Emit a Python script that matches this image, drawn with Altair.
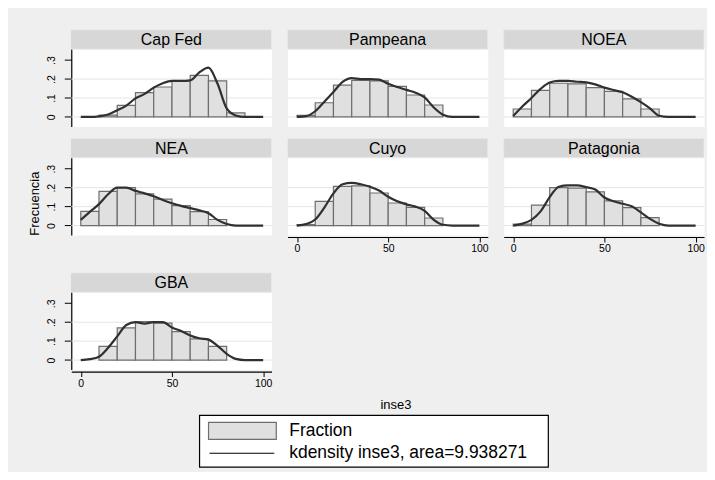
import altair as alt
import pandas as pd

# ---------------- data ----------------
REGIONS = ["Cap Fed", "Pampeana", "NOEA", "NEA", "Cuyo", "Patagonia", "GBA"]

BIN_LO = [0, 10, 20, 30, 40, 50, 60, 70, 80]
BIN_HI = [10, 20, 30, 40, 50, 60, 70, 80, 90]

FRAC_CAPFED = [0.0, 0.01, 0.061, 0.128, 0.158, 0.19, 0.22, 0.19, 0.021]
FRAC_PAMPEANA = [0.008, 0.075, 0.168, 0.193, 0.19, 0.161, 0.116, 0.063, 0.0]
FRAC_NOEA = [0.042, 0.14, 0.178, 0.175, 0.155, 0.135, 0.095, 0.042, 0.0]
FRAC_NEA = [0.075, 0.18, 0.2, 0.167, 0.14, 0.105, 0.074, 0.032, 0.0]
FRAC_CUYO = [0.005, 0.128, 0.207, 0.21, 0.172, 0.119, 0.096, 0.04, 0.0]
FRAC_PATAGONIA = [0.008, 0.108, 0.2, 0.198, 0.178, 0.13, 0.095, 0.042, 0.0]
FRAC_GBA = [0.0, 0.072, 0.17, 0.203, 0.195, 0.15, 0.112, 0.072, 0.0]

KX = [0, 5, 10, 15, 20, 25, 30, 35, 40, 45, 50, 55, 60, 65, 70, 75, 80, 85, 90, 95, 100]
KD_CAPFED = [0, 0, 0.003, 0.013, 0.035, 0.06, 0.098, 0.122, 0.155, 0.178, 0.19, 0.19,
             0.193, 0.235, 0.26, 0.175, 0.045, 0.008, 0, 0, 0]
KD_PAMPEANA = [0, 0.004, 0.03, 0.08, 0.132, 0.185, 0.205, 0.2, 0.2, 0.197, 0.175, 0.158,
               0.143, 0.128, 0.103, 0.05, 0.012, 0, 0, 0, 0]
KD_NOEA = [0.005, 0.055, 0.1, 0.148, 0.182, 0.19, 0.19, 0.186, 0.183, 0.172, 0.155, 0.142,
           0.13, 0.107, 0.078, 0.045, 0.006, 0, 0, 0, 0]
KD_NEA = [0.03, 0.072, 0.113, 0.165, 0.2, 0.2, 0.183, 0.17, 0.155, 0.135, 0.118, 0.104,
          0.092, 0.08, 0.065, 0.03, 0.008, 0, 0, 0, 0]
KD_CUYO = [0, 0.008, 0.032, 0.095, 0.17, 0.218, 0.225, 0.218, 0.205, 0.185, 0.152, 0.128,
           0.112, 0.1, 0.078, 0.03, 0.004, 0, 0, 0, 0]
KD_PATAGONIA = [0, 0.01, 0.03, 0.075, 0.15, 0.205, 0.212, 0.212, 0.203, 0.19, 0.148, 0.128,
                0.115, 0.102, 0.07, 0.035, 0.01, 0, 0, 0, 0]
KD_GBA = [0, 0.005, 0.018, 0.065, 0.125, 0.185, 0.2, 0.193, 0.2, 0.2, 0.172, 0.153,
          0.13, 0.115, 0.108, 0.075, 0.033, 0.006, 0, 0, 0]

Y_TICKS = [0, 0.1, 0.2, 0.3]
GRID_VALUES = [0, 0.1, 0.2]
X_TICKS = [0, 50, 100]
Y_TITLE = "Frecuencia"
X_TITLE = "inse3"
LEGEND_LABELS = ["Fraction", "kdensity inse3, area=9.938271"]

FRAC = dict(zip(REGIONS, [FRAC_CAPFED, FRAC_PAMPEANA, FRAC_NOEA, FRAC_NEA,
                          FRAC_CUYO, FRAC_PATAGONIA, FRAC_GBA]))
KD = dict(zip(REGIONS, [KD_CAPFED, KD_PAMPEANA, KD_NOEA, KD_NEA,
                        KD_CUYO, KD_PATAGONIA, KD_GBA]))

# ---------------- style ----------------
FONT = "Liberation Sans"
BG = "#efefef"
STRIPC = "#d7d7d7"
STRIPEDGE = "#e8e8e8"
GRIDC = "#e4e4e4"
BARFILL = "#e0e0e0"
BARSTROKE = "#6e6e6e"
LINEC = "#303030"

W = 201
H = 97
STRIP = 19.5
XDOM = [-5.2, 104.6]
YDOM = [-0.05, 0.4605]

dummy = pd.DataFrame({"a": [1]})

Y_AXIS_PANELS = {"Cap Fed", "NEA", "GBA"}
X_AXIS_PANELS = {"Cuyo", "Patagonia", "GBA"}


def y_axis(name):
    if name not in Y_AXIS_PANELS:
        return None
    kw = dict(
        values=Y_TICKS,
        labelExpr="datum.value == 0 ? '0' : replace(format(datum.value, '.1f'), '0.', '.')",
        labelAngle=270, labelAlign="center", labelBaseline="alphabetic",
        labelFont=FONT, labelFontSize=10.5, labelColor="black", labelPadding=10,
        tickSize=7, tickColor="black", domainColor="black", domainWidth=1.2,
        grid=False, minExtent=0,
    )
    if name == "NEA":
        kw.update(title=Y_TITLE, titleX=-37, titleY=65, titleAngle=270,
                  titleAlign="center", titleBaseline="middle", titleFont=FONT,
                  titleFontSize=13, titleFontWeight="normal", titleColor="black")
    else:
        kw.update(title=None)
    return alt.Axis(**kw)


def x_axis(name):
    if name not in X_AXIS_PANELS:
        return None
    kw = dict(values=X_TICKS, title=None, grid=False, tickSize=5, tickColor="black",
              domainColor="black", domainWidth=1.2, labelPadding=2, offset=2,
              labelFont=FONT, labelFontSize=10.5, labelColor="black", labelFlush=False)
    if name != "GBA":
        kw.update(minExtent=24)
    return alt.Axis(**kw)


def panel(name):
    xs = alt.Scale(domain=XDOM, nice=False, zero=False)
    ys = alt.Scale(domain=YDOM, nice=False, zero=False)
    yax = y_axis(name)
    xax = x_axis(name)

    hist = pd.DataFrame({"lo": BIN_LO, "hi": BIN_HI, "frac": FRAC[name]})
    hist = hist[hist["frac"] > 0]
    kd = pd.DataFrame({"x": KX, "d": KD[name]})
    grid = pd.DataFrame({"g": GRID_VALUES})

    g = alt.Chart(grid).mark_rule(color=GRIDC, strokeWidth=1).encode(
        y=alt.Y("g:Q", scale=ys, axis=yax))
    bars = alt.Chart(hist).mark_rect(fill=BARFILL, stroke=BARSTROKE, strokeWidth=1.2).encode(
        x=alt.X("lo:Q", scale=xs, axis=xax),
        x2="hi:Q",
        y=alt.Y("frac:Q", scale=ys, axis=yax),
        y2=alt.datum(0))
    line = alt.Chart(kd).mark_line(color=LINEC, strokeWidth=2.2, interpolate="monotone").encode(
        x=alt.X("x:Q", scale=xs, axis=xax),
        y=alt.Y("d:Q", scale=ys, axis=yax))
    strip = alt.Chart(dummy).mark_rect(fill=STRIPC, stroke=STRIPEDGE, strokeWidth=1).encode(
        x=alt.value(0), x2=alt.value(W), y=alt.value(0), y2=alt.value(STRIP))
    label = alt.Chart(dummy).mark_text(text=name, font=FONT, fontSize=16, color="black",
                                       align="center", baseline="middle").encode(
        x=alt.value(W / 2), y=alt.value(STRIP / 2 + 0.5))
    return alt.layer(g, bars, line, strip, label).properties(width=W, height=H)


grid_chart = alt.concat(*[panel(r) for r in REGIONS], columns=3,
                        spacing={"row": 10, "column": 14}, align="each")

# legend box
LW = 378
box = alt.Chart(dummy).mark_rect(fill="white", stroke="black", strokeWidth=1.2).encode(
    x=alt.value(0), x2=alt.value(350), y=alt.value(0), y2=alt.value(52))
swatch = alt.Chart(dummy).mark_rect(fill=BARFILL, stroke=BARSTROKE, strokeWidth=1.2).encode(
    x=alt.value(9), x2=alt.value(77), y=alt.value(7), y2=alt.value(24))
lline = alt.Chart(dummy).mark_rule(color="black", strokeWidth=1.2).encode(
    x=alt.value(10), x2=alt.value(75), y=alt.value(38))
t1 = alt.Chart(dummy).mark_text(text=LEGEND_LABELS[0], font=FONT, fontSize=17.5, color="black",
                                align="left", baseline="middle").encode(
    x=alt.value(90), y=alt.value(16))
t2 = alt.Chart(dummy).mark_text(text=LEGEND_LABELS[1], font=FONT, fontSize=17.5, color="black",
                                align="left", baseline="middle").encode(
    x=alt.value(90), y=alt.value(38))
legend = alt.layer(box, swatch, lline, t1, t2).properties(
    width=LW, height=52,
    view=alt.ViewBackground(stroke="transparent", fill="transparent"),
    title=alt.TitleParams(text=X_TITLE, font=FONT, fontSize=13, fontWeight="normal",
                          color="black", dx=8, offset=3, anchor="middle"))

chart = alt.vconcat(grid_chart, legend, spacing=8, center=True).properties(
    padding={"left": 19.5, "top": 20, "right": 2, "bottom": 2},
    background=BG,
).configure_view(stroke="transparent", fill="white")

chart.save("out.html", embed_options={"renderer": "svg", "actions": False})
